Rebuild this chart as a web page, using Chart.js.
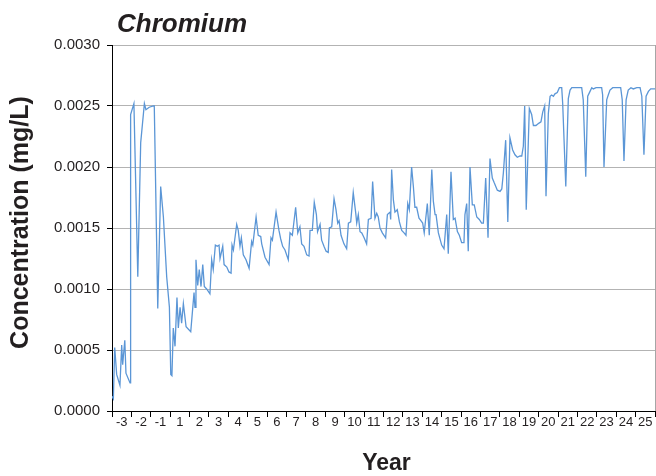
<!DOCTYPE html>
<html>
<head>
<meta charset="utf-8">
<title>Chromium</title>
<script src="https://cdn.jsdelivr.net/npm/chart.js@4.4.1/dist/chart.umd.min.js"></script>
<style>
  html, body { margin: 0; padding: 0; background: #ffffff; }
  #wrap { width: 656px; height: 476px; }
</style>
</head>
<body>
<div id="wrap"><canvas id="chart" width="656" height="476"></canvas></div>
<script>
// Chart title and axis titles
const chartTitle = 'Chromium';
const yTitle = 'Concentration (mg/L)';
const xTitle = 'Year';

// Year labels along the x axis (there is no year 0)
const yearLabels = ['-3', '-2', '-1', '1', '2', '3', '4', '5', '6', '7', '8', '9', '10', '11',
  '12', '13', '14', '15', '16', '17', '18', '19', '20', '21', '22', '23', '24', '25'];

// Sample time, in years elapsed since the start of the record
const elapsed = [
  0, 0.07, 0.14, 0.24, 0.41, 0.50, 0.55, 0.66, 0.72, 0.93,
  0.96, 1.13, 1.33, 1.48, 1.67, 1.75, 1.92, 2.13, 2.18, 2.36,
  2.51, 2.65, 2.82, 2.96, 3.03, 3.09, 3.16, 3.25, 3.35, 3.42,
  3.51, 3.59, 3.68, 3.82, 4.06, 4.23, 4.28, 4.33, 4.42, 4.50,
  4.59, 4.68, 4.76, 4.88, 5.05, 5.14, 5.22, 5.33, 5.43, 5.52,
  5.57, 5.71, 5.78, 5.92, 6.03, 6.14, 6.19, 6.26, 6.43, 6.51,
  6.60, 6.67, 6.77, 6.91, 7.07, 7.20, 7.26, 7.43, 7.54, 7.67,
  7.72, 7.89, 8.10, 8.20, 8.27, 8.46, 8.61, 8.70, 8.80, 8.92,
  9.09, 9.18, 9.30, 9.47, 9.58, 9.69, 9.78, 9.90, 10.04, 10.16,
  10.21, 10.33, 10.43, 10.54, 10.60, 10.73, 10.81, 10.93, 11.04, 11.15,
  11.21, 11.33, 11.45, 11.55, 11.64, 11.71, 11.81, 11.96, 12.10, 12.19,
  12.31, 12.44, 12.57, 12.62, 12.70, 12.79, 12.88, 13.00, 13.13, 13.22,
  13.36, 13.44, 13.56, 13.65, 13.73, 13.82, 13.94, 14.11, 14.20, 14.34,
  14.37, 14.42, 14.51, 14.59, 14.71, 14.82, 14.94, 15.06, 15.16, 15.25,
  15.33, 15.45, 15.54, 15.62, 15.71, 15.83, 15.88, 16.02, 16.10, 16.26,
  16.36, 16.49, 16.57, 16.66, 16.71, 16.83, 17.00, 17.12, 17.26, 17.34,
  17.48, 17.60, 17.69, 17.81, 17.91, 18.03, 18.15, 18.20, 18.29, 18.37,
  18.46, 18.58, 18.68, 18.81, 18.94, 19.06, 19.15, 19.27, 19.39, 19.49,
  19.61, 19.71, 19.87, 20.01, 20.10, 20.18, 20.30, 20.41, 20.52, 20.66,
  20.78, 20.90, 21.04, 21.13, 21.21, 21.28, 21.36, 21.52, 21.64, 21.73,
  21.86, 22.02, 22.12, 22.21, 22.31, 22.38, 22.50, 22.59, 22.67, 22.76,
  22.84, 22.96, 23.07, 23.19, 23.24, 23.40, 23.53, 23.62, 23.71, 23.88,
  24.05, 24.22, 24.30, 24.43, 24.53, 24.65, 24.74, 24.82, 24.96, 25.25,
  25.30, 25.37, 25.51, 25.59, 25.68, 25.82, 26.03, 26.23, 26.31, 26.40,
  26.51, 26.62, 26.76, 26.88, 27.06, 27.23, 27.32, 27.43, 27.54, 27.66,
  27.78, 28.00
];

// Chromium concentration, mg/L
const chromium = [
  0.00012, 0.00010, 0.00052, 0.00030, 0.00021, 0.00054, 0.00038, 0.00058, 0.00031, 0.00023,
  0.00243, 0.00252, 0.00110, 0.00220, 0.00252, 0.00247, 0.00249, 0.00250, 0.00250, 0.00084,
  0.00184, 0.00159, 0.00110, 0.00085, 0.00030, 0.00029, 0.00068, 0.00053, 0.00093, 0.00068,
  0.00085, 0.00072, 0.00088, 0.00069, 0.00065, 0.00097, 0.00085, 0.00124, 0.00103, 0.00116,
  0.00102, 0.00120, 0.00102, 0.00100, 0.00096, 0.00124, 0.00116, 0.00136, 0.00135, 0.00136,
  0.00125, 0.00135, 0.00120, 0.00118, 0.00114, 0.00113, 0.00136, 0.00132, 0.00153, 0.00148,
  0.00135, 0.00142, 0.00128, 0.00124, 0.00117, 0.00139, 0.00136, 0.00159, 0.00144, 0.00143,
  0.00137, 0.00126, 0.00120, 0.00142, 0.00140, 0.00163, 0.00148, 0.00141, 0.00135, 0.00132,
  0.00124, 0.00146, 0.00144, 0.00167, 0.00146, 0.00151, 0.00137, 0.00135, 0.00128, 0.00127,
  0.00148, 0.00148, 0.00171, 0.00161, 0.00147, 0.00153, 0.00140, 0.00135, 0.00131, 0.00130,
  0.00150, 0.00151, 0.00174, 0.00165, 0.00154, 0.00156, 0.00144, 0.00137, 0.00133, 0.00154,
  0.00155, 0.00179, 0.00162, 0.00154, 0.00161, 0.00147, 0.00146, 0.00142, 0.00137, 0.00157,
  0.00158, 0.00188, 0.00158, 0.00162, 0.00159, 0.00150, 0.00146, 0.00142, 0.00161, 0.00163,
  0.00157, 0.00198, 0.00173, 0.00163, 0.00165, 0.00155, 0.00148, 0.00146, 0.00144, 0.00170,
  0.00165, 0.00200, 0.00184, 0.00167, 0.00167, 0.00158, 0.00157, 0.00154, 0.00146, 0.00170,
  0.00144, 0.00198, 0.00172, 0.00161, 0.00161, 0.00146, 0.00136, 0.00133, 0.00161, 0.00129,
  0.00196, 0.00157, 0.00158, 0.00147, 0.00144, 0.00138, 0.00138, 0.00161, 0.00170, 0.00131,
  0.00200, 0.00169, 0.00169, 0.00159, 0.00157, 0.00154, 0.00154, 0.00191, 0.00142, 0.00207,
  0.00191, 0.00187, 0.00181, 0.00180, 0.00182, 0.00195, 0.00222, 0.00155, 0.00224, 0.00214,
  0.00210, 0.00208, 0.00209, 0.00209, 0.00217, 0.00250, 0.00165, 0.00248, 0.00243, 0.00234,
  0.00234, 0.00236, 0.00237, 0.00245, 0.00250, 0.00176, 0.00244, 0.00258, 0.00259, 0.00258,
  0.00260, 0.00261, 0.00265, 0.00265, 0.00252, 0.00184, 0.00256, 0.00263, 0.00265, 0.00265,
  0.00265, 0.00265, 0.00255, 0.00192, 0.00258, 0.00262, 0.00265, 0.00264, 0.00265, 0.00265,
  0.00259, 0.00200, 0.00255, 0.00259, 0.00263, 0.00265, 0.00265, 0.00265, 0.00255, 0.00205,
  0.00255, 0.00263, 0.00265, 0.00264, 0.00265, 0.00265, 0.00258, 0.00210, 0.00258, 0.00262,
  0.00264, 0.00264
];

// Concentration axis ticks
const yTicks = [0, 0.0005, 0.0010, 0.0015, 0.0020, 0.0025, 0.0030];

const points = elapsed.map((t, i) => ({ x: t, y: chromium[i] }));

const FONT = '"Liberation Sans", Arial, sans-serif';
const INK = '#231f20';

// Chart title, axis titles and the grey frame line on the right of the plot
const decorations = {
  id: 'decorations',
  afterDraw(chart) {
    const { ctx, chartArea: a } = chart;
    ctx.save();
    ctx.strokeStyle = '#a6a6a6';
    ctx.lineWidth = 1;
    ctx.beginPath();
    ctx.moveTo(a.right + 0.5, a.top);
    ctx.lineTo(a.right + 0.5, a.bottom);
    ctx.stroke();

    ctx.fillStyle = INK;
    ctx.textAlign = 'left';
    ctx.textBaseline = 'alphabetic';
    ctx.font = 'italic bold 26px ' + FONT;
    ctx.fillText(chartTitle, a.left + 5, 32);

    ctx.textAlign = 'center';
    ctx.font = 'bold 23px ' + FONT;
    ctx.fillText(xTitle, (a.left + a.right) / 2 + 3, 470);

    ctx.translate(21, (a.top + a.bottom) / 2 - 5.5);
    ctx.rotate(-Math.PI / 2);
    ctx.textBaseline = 'middle';
    ctx.font = 'bold 25px ' + FONT;
    ctx.fillText(yTitle, 0, 0);
    ctx.restore();
  }
};

new Chart(document.getElementById('chart'), {
  type: 'line',
  data: {
    datasets: [{
      label: 'Chromium',
      data: points,
      borderColor: '#5b96d6',
      borderWidth: 1.3,
      pointRadius: 0,
      tension: 0,
      fill: false
    }]
  },
  options: {
    responsive: false,
    animation: false,
    devicePixelRatio: 1,
    layout: { padding: { top: 45, right: 1, left: 0, bottom: 0 } },
    plugins: {
      legend: { display: false },
      tooltip: { enabled: false },
      title: { display: false }
    },
    scales: {
      x: {
        type: 'linear',
        min: 0,
        max: yearLabels.length,
        afterBuildTicks(scale) {
          scale.ticks = yearLabels.map((_, i) => ({ value: i + 0.5 }));
        },
        afterFit(scale) { scale.height = 65; },
        ticks: {
          autoSkip: false,
          maxRotation: 0,
          minRotation: 0,
          padding: -2,
          color: INK,
          font: { family: FONT, size: 13 },
          callback(value, index) { return yearLabels[index]; }
        },
        grid: {
          offset: true,
          drawOnChartArea: false,
          drawTicks: true,
          tickLength: 6,
          tickColor: '#000000',
          lineWidth: 1
        },
        border: { display: true, color: '#000000', width: 1 },
        title: { display: false }
      },
      y: {
        min: 0,
        max: 0.003,
        afterBuildTicks(scale) {
          scale.ticks = yTicks.map(v => ({ value: v }));
        },
        afterFit(scale) { scale.width = 112; },
        ticks: {
          padding: 7,
          color: INK,
          font: { family: FONT, size: 15 },
          callback(value) { return Number(value).toFixed(4); }
        },
        grid: {
          color: '#b3b3b3',
          lineWidth: 1,
          drawTicks: true,
          tickLength: 5,
          tickColor: '#000000'
        },
        border: { display: true, color: '#000000', width: 1 },
        title: { display: false }
      }
    }
  },
  plugins: [decorations]
});
</script>
</body>
</html>
